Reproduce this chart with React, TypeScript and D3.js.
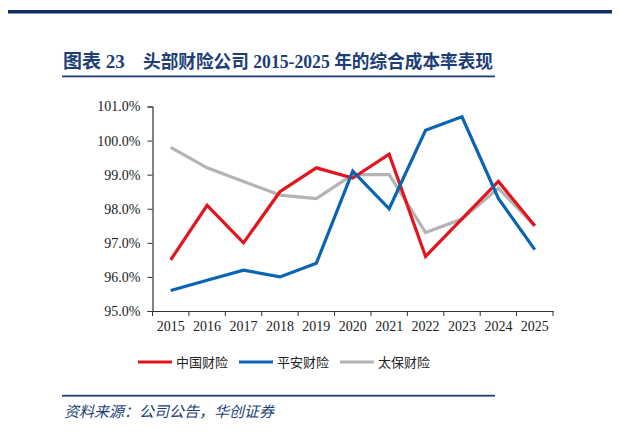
import { useEffect, useRef } from 'react';
import * as d3 from 'd3';

/**
 * Combined ratio of leading P&C insurers, 2015-2025
 */

const years = ['2015', '2016', '2017', '2018', '2019', '2020', '2021', '2022', '2023', '2024', '2025'];
const picc = [96.5, 98.1, 97.0, 98.5, 99.2, 98.9, 99.6, 96.6, 97.7, 98.8, 97.5];
const pingan = [95.6, 95.9, 96.2, 96.0, 96.4, 99.1, 98.0, 100.3, 100.7, 98.3, 96.8];
const cpic = [99.8, 99.2, 98.8, 98.4, 98.3, 99.0, 99.0, 97.3, 97.7, 98.6, 97.5];
const seriesNames = ['中国财险', '平安财险', '太保财险'];
const yTicks = [95, 96, 97, 98, 99, 100, 101];

const NAVY = '#1c3f78';
const SERIF = '"Times New Roman", "Liberation Serif", "Noto Sans CJK SC", serif';

export default function App() {
  const svgRef = useRef<SVGSVGElement>(null);

  useEffect(() => {
    if (!svgRef.current) return;
    const width = 620;
    const svg = d3.select(svgRef.current);
    svg.selectAll('*').remove();

    // Frame: top rule, title, rules
    svg.append('rect').attr('x', 0).attr('y', 10).attr('width', width).attr('height', 3.5).attr('fill', '#0e2f66');

    svg.append('text')
      .attr('x', 63).attr('y', 68)
      .attr('fill', NAVY)
      .attr('font-family', SERIF)
      .attr('font-weight', 'bold')
      .attr('font-size', '19px')
      .text('图表 23');
    svg.append('text')
      .attr('x', 143).attr('y', 68)
      .attr('fill', NAVY)
      .attr('font-family', SERIF)
      .attr('font-weight', 'bold')
      .attr('font-size', '18.5px')
      .attr('textLength', 350)
      .attr('lengthAdjust', 'spacingAndGlyphs')
      .text('头部财险公司 2015-2025 年的综合成本率表现');

    svg.append('rect').attr('x', 62).attr('y', 75.5).attr('width', 433).attr('height', 1.8).attr('fill', NAVY);
    svg.append('rect').attr('x', 615).attr('y', 75.5).attr('width', 5).attr('height', 1.8).attr('fill', NAVY);
    svg.append('rect').attr('x', 617).attr('y', 55).attr('width', 3).attr('height', 14).attr('fill', NAVY);
    svg.append('rect').attr('x', 62).attr('y', 394.8).attr('width', 433).attr('height', 1.8).attr('fill', NAVY);
    svg.append('rect').attr('x', 615).attr('y', 394.8).attr('width', 5).attr('height', 1.8).attr('fill', NAVY);

    svg.append('text')
      .attr('x', 64).attr('y', 417)
      .attr('fill', NAVY)
      .attr('font-family', SERIF)
      .attr('font-style', 'italic')
      .attr('font-size', '15px')
      .text('资料来源：公司公告，华创证券');

    // Plot
    const left = 152.5;
    const right = 553;
    const top = 106.5;
    const bottom = 311;

    const x = d3.scaleBand().domain(years).range([left, right]).padding(0);
    const y = d3.scaleLinear().domain([95, 101]).range([bottom, top]);

    const g = svg.append('g');

    // Y axis
    const yAxis = g.append('g')
      .attr('transform', `translate(${left},0)`)
      .call(d3.axisLeft(y).tickValues(yTicks).tickSize(5).tickFormat((d) => `${(+d).toFixed(1)}%`));
    yAxis.select('.domain').attr('stroke', '#333').attr('stroke-width', 1.2);
    yAxis.selectAll('.tick line').attr('stroke', '#333');
    yAxis.selectAll('text')
      .attr('fill', '#222')
      .attr('font-family', SERIF)
      .attr('font-size', '14px')
      .attr('x', -12);

    // X axis
    const xAxis = g.append('g')
      .attr('transform', `translate(0,${bottom})`)
      .call(d3.axisBottom(x).tickSize(0).tickSizeOuter(0));
    xAxis.select('.domain').attr('stroke', '#333').attr('stroke-width', 1.2);
    xAxis.selectAll('text')
      .attr('fill', '#222')
      .attr('font-family', SERIF)
      .attr('font-size', '14px')
      .attr('dy', '1.2em');
    // boundary ticks between categories
    const bounds = years.map((yr) => x(yr) || 0).concat([right]);
    g.selectAll('.xtick')
      .data(bounds)
      .enter()
      .append('line')
      .attr('x1', (d) => d).attr('x2', (d) => d)
      .attr('y1', bottom).attr('y2', bottom + 5)
      .attr('stroke', '#333');

    // Lines
    const data = [
      { name: seriesNames[0], values: picc, color: '#e3141e' },
      { name: seriesNames[1], values: pingan, color: '#0a64b4' },
      { name: seriesNames[2], values: cpic, color: '#b4b4b4' },
    ];
    const line = d3.line<number>()
      .x((_, i) => (x(years[i]) || 0) + x.bandwidth() / 2)
      .y((d) => y(d));

    // gray first, then red, then blue on top as in the reference
    [data[2], data[0], data[1]].forEach((s) => {
      g.append('path')
        .datum(s.values)
        .attr('d', line)
        .attr('fill', 'none')
        .attr('stroke', s.color)
        .attr('stroke-width', 3.2)
        .attr('stroke-linejoin', 'miter');
    });

    // Legend
    const legendX = [138, 239, 340];
    data.forEach((s, i) => {
      const lg = svg.append('g').attr('transform', `translate(${legendX[i]},362)`);
      lg.append('line').attr('x1', 0).attr('x2', 34).attr('y1', 0).attr('y2', 0)
        .attr('stroke', s.color).attr('stroke-width', 3.2);
      lg.append('text')
        .attr('x', 38).attr('y', 4.5)
        .attr('fill', '#222')
        .attr('font-family', SERIF)
        .attr('font-size', '13px')
        .text(s.name);
    });
  }, []);

  return (
    <div style={{ margin: -8 }}>
      <svg ref={svgRef} width={620} height={433} style={{ display: 'block', background: '#fff' }} />
    </div>
  );
}
